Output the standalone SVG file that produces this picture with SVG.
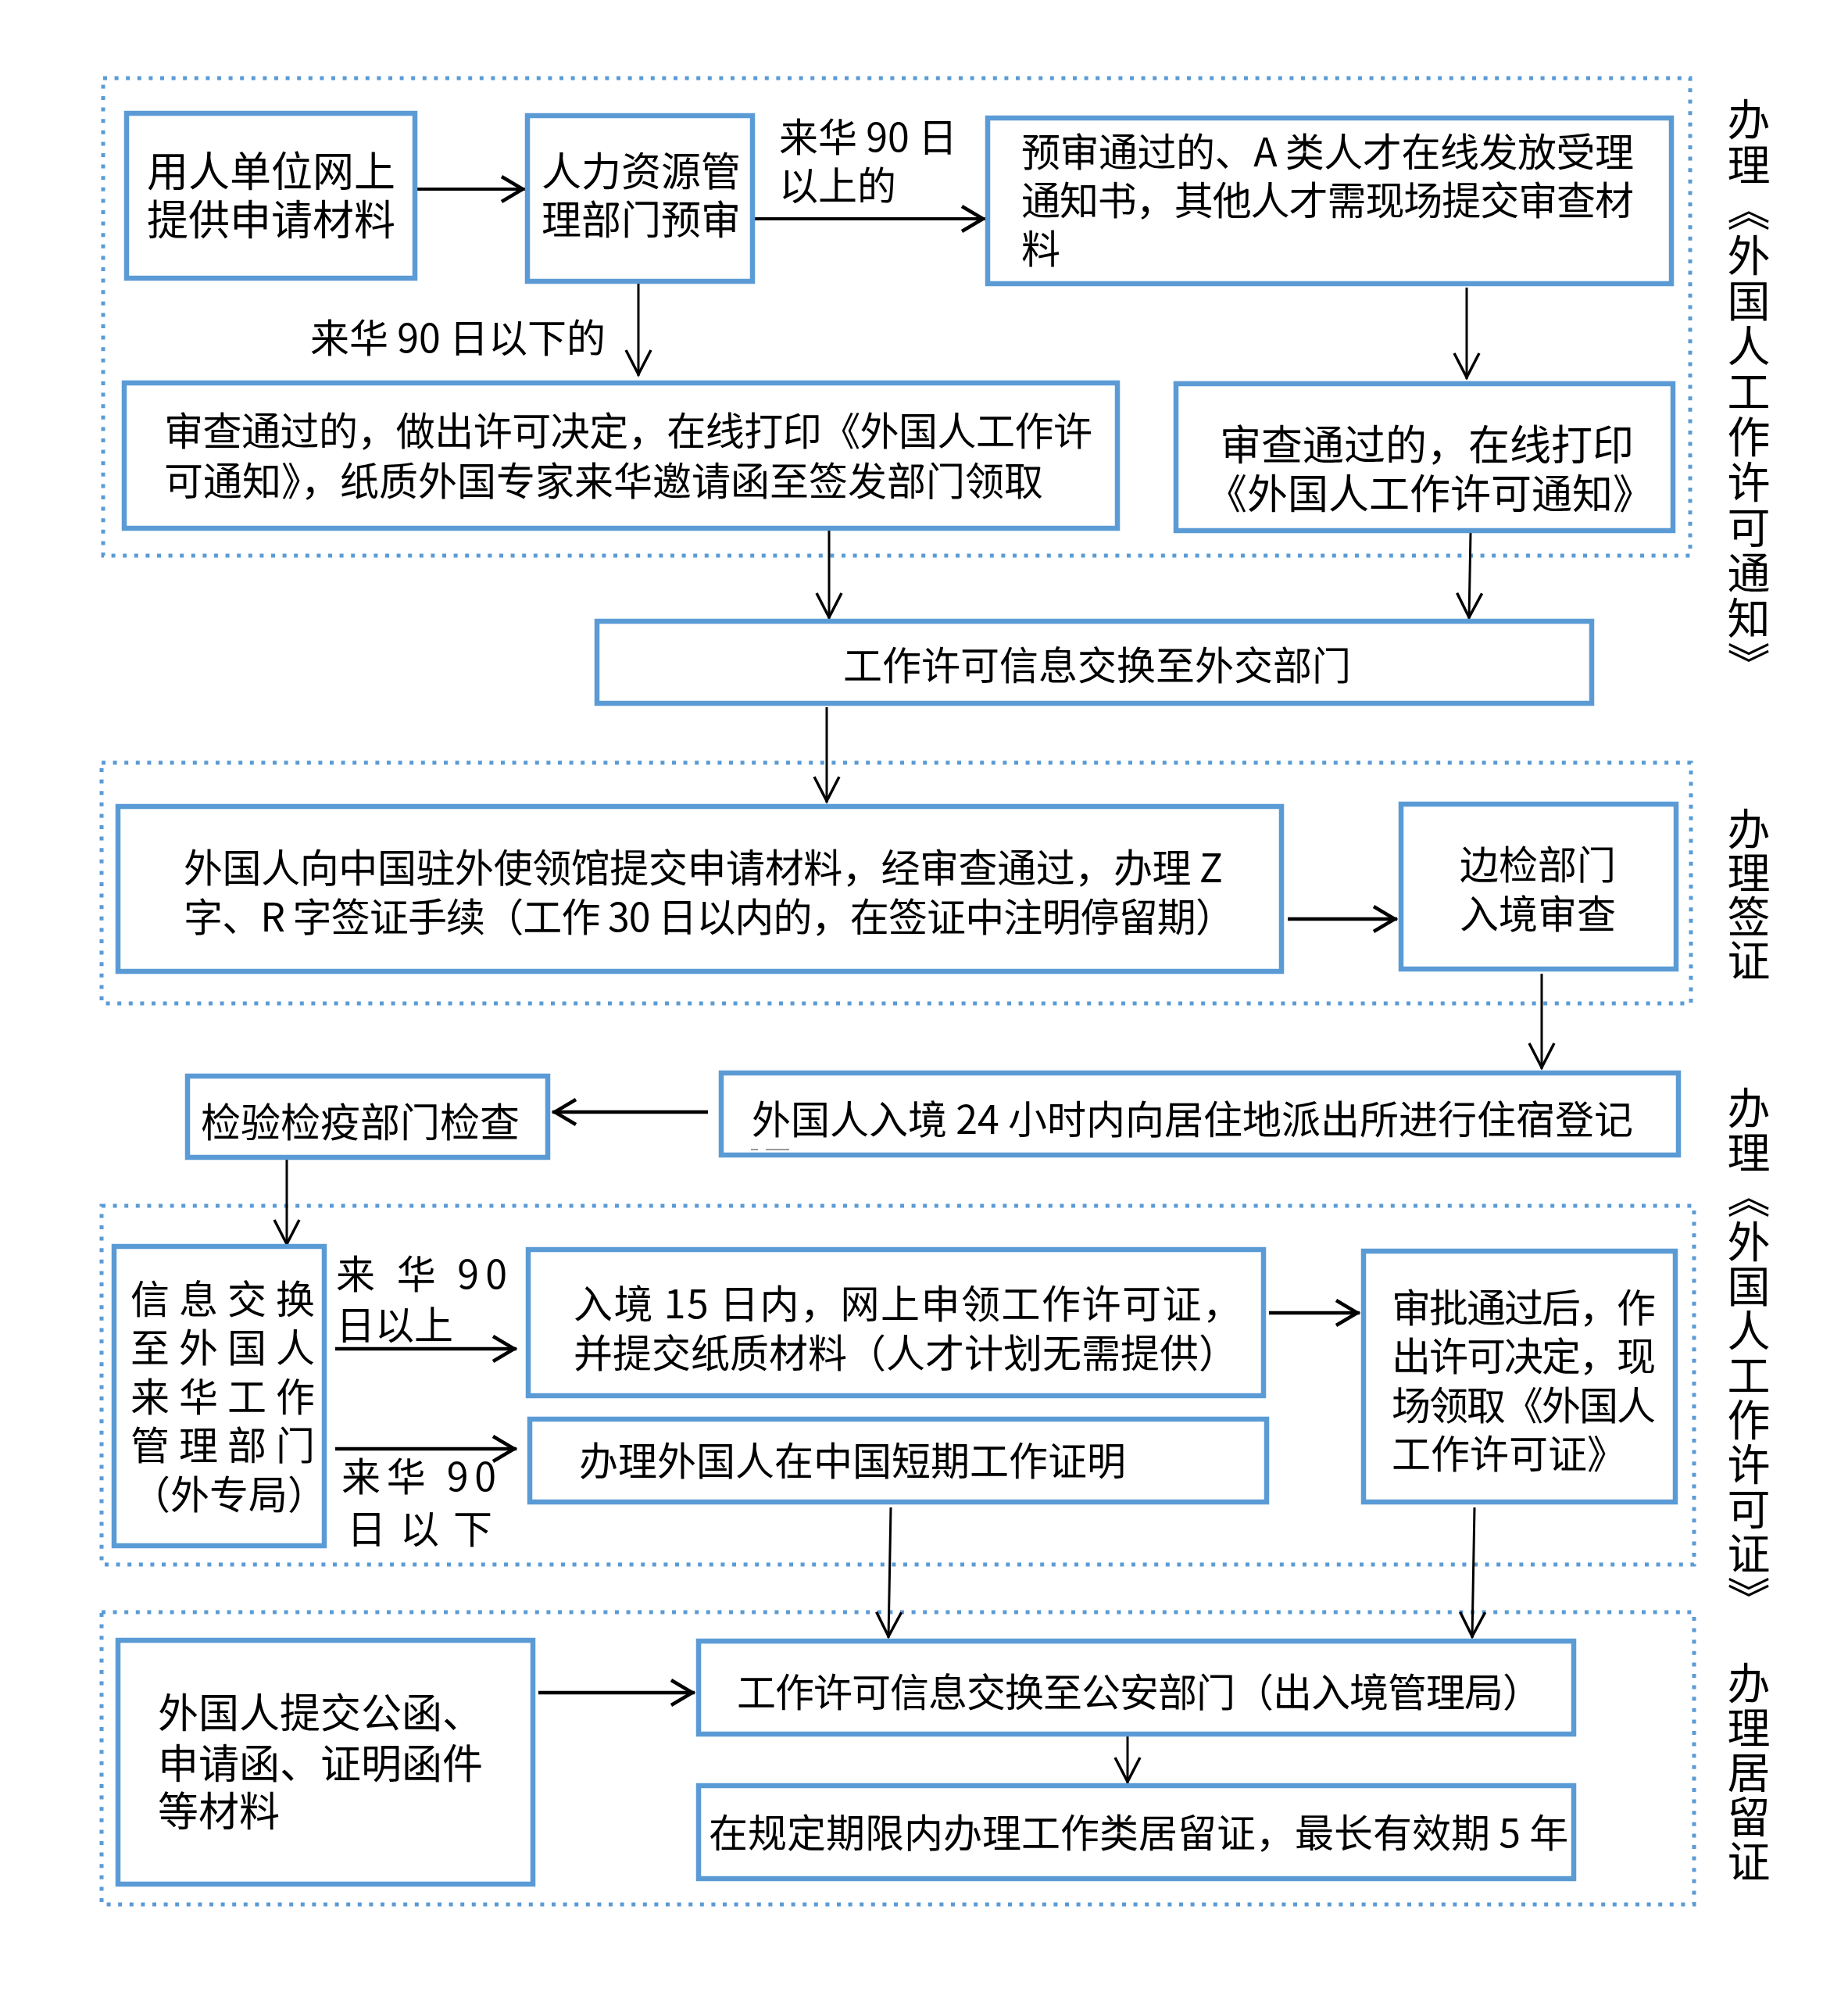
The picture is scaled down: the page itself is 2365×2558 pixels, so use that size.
<svg xmlns="http://www.w3.org/2000/svg" width="2365" height="2558" viewBox="0 0 2365 2558">
<style>
.bg{fill:#fff}
.zone{fill:none;stroke:#5B9BD5;stroke-width:5;stroke-dasharray:5 9.6}
.box{fill:#fff;stroke:#5B9BD5;stroke-width:6.5}
.t{font-family:'Noto Sans CJK SC','Noto Sans',sans-serif;font-size:50px;fill:#000}
.vt{font-family:'Noto Sans CJK SC','Noto Sans',sans-serif;font-size:55px;fill:#000;writing-mode:vertical-rl}
.c{fill:none;stroke:#000;stroke-width:3}
.ck{fill:none;stroke:#000;stroke-width:4.5}
.m{text-anchor:middle}
</style>
<defs>
<marker id="ah" markerUnits="userSpaceOnUse" markerWidth="44" markerHeight="44" viewBox="-40 -22 44 44" refX="0" refY="0" orient="auto" overflow="visible">
<path d="M-33,-16 L-2,0 L-33,16" fill="none" stroke="#000" stroke-width="3.5"/>
</marker>
<marker id="ahk" markerUnits="userSpaceOnUse" markerWidth="44" markerHeight="44" viewBox="-40 -22 44 44" refX="0" refY="0" orient="auto" overflow="visible">
<path d="M-30,-16 L-3,0 L-30,16" fill="none" stroke="#000" stroke-width="4.5"/>
</marker>
</defs>
<rect class="bg" x="0" y="0" width="2365" height="2558"/>

<g id="zones">
<rect class="zone" x="132" y="100" width="2031" height="611"/>
<rect class="zone" x="130" y="976" width="2034" height="308"/>
<rect class="zone" x="130" y="1543" width="2038" height="459"/>
<rect class="zone" x="130" y="2063" width="2038" height="374"/>
</g>

<g id="labels">
<text class="vt" x="2238" y="125" style="letter-spacing:3px">办理《外国人工作许可通知》</text>
<text class="vt" x="2238" y="1033" style="letter-spacing:1px">办理签证</text>
<text class="vt" x="2238" y="1390" style="letter-spacing:2px">办理《外国人工作许可证》</text>
<text class="vt" x="2238" y="2126" style="letter-spacing:2px">办理居留证</text>
</g>

<g id="connectors">
<line class="c" x1="534" y1="242" x2="672" y2="242" style="stroke-width:4" marker-end="url(#ahk)"/>
<line class="c" x1="966" y1="280" x2="1261" y2="280" style="stroke-width:4" marker-end="url(#ahk)"/>
<text class="t" x="997" y="194">来华 90 日</text>
<text class="t" x="997" y="256">以上的</text>
<line class="c" x1="817" y1="363" x2="817" y2="481" marker-end="url(#ah)"/>
<text class="t" x="397" y="451">来华 90 日以下的</text>
<line class="c" x1="1877" y1="368" x2="1877" y2="485" marker-end="url(#ah)"/>
<line class="c" x1="1061" y1="679" x2="1061" y2="792" marker-end="url(#ah)"/>
<line class="c" x1="1882" y1="682" x2="1880" y2="792" marker-end="url(#ah)"/>
<line class="c" x1="1058" y1="905" x2="1058" y2="1027" marker-end="url(#ah)"/>
<line class="ck" x1="1648" y1="1176" x2="1788" y2="1176" marker-end="url(#ahk)"/>
<line class="c" x1="1973" y1="1246" x2="1973" y2="1368" marker-end="url(#ah)"/>
<line class="ck" x1="906" y1="1423" x2="707" y2="1423" marker-end="url(#ahk)"/>
<line class="c" x1="367" y1="1484" x2="367" y2="1594" marker-end="url(#ah)"/>
<line class="ck" x1="429" y1="1726" x2="661" y2="1726" marker-end="url(#ahk)"/>
<text class="t" x="430" y="1649" textLength="219" lengthAdjust="spacing">来 华 90</text>
<text class="t" x="430" y="1714">日以上</text>
<line class="ck" x1="1624" y1="1680" x2="1740" y2="1680" marker-end="url(#ahk)"/>
<line class="ck" x1="429" y1="1854" x2="661" y2="1854" marker-end="url(#ahk)"/>
<text class="t" x="437" y="1908" textLength="198" lengthAdjust="spacing">来华 90</text>
<text class="t" x="444" y="1975" textLength="186" lengthAdjust="spacing">日 以 下</text>
<line class="c" x1="1140" y1="1929" x2="1137" y2="2096" marker-end="url(#ah)"/>
<line class="c" x1="1887" y1="1929" x2="1884" y2="2096" marker-end="url(#ah)"/>
<line class="ck" x1="689" y1="2166" x2="889" y2="2166" marker-end="url(#ahk)"/>
<line class="c" x1="1443" y1="2222" x2="1443" y2="2282" marker-end="url(#ah)"/>
</g>

<g id="n1">
<rect class="box" x="162" y="145" width="369" height="211"/>
<text class="t" x="188" y="239" style="font-size:53px">用人单位网上</text>
<text class="t" x="188" y="301" style="font-size:53px">提供申请材料</text>
</g>
<g id="n2">
<rect class="box" x="675" y="148" width="288" height="212"/>
<text class="t" x="693" y="238" style="font-size:51px">人力资源管</text>
<text class="t" x="693" y="300" style="font-size:51px">理部门预审</text>
</g>
<g id="n3">
<rect class="box" x="1264" y="151" width="875" height="212"/>
<text class="t" x="1307" y="213" textLength="784" lengthAdjust="spacing">预审通过的、A 类人才在线发放受理</text>
<text class="t" x="1307" y="275" textLength="784" lengthAdjust="spacing">通知书，其他人才需现场提交审查材</text>
<text class="t" x="1307" y="337">料</text>
</g>
<g id="n4">
<rect class="box" x="159" y="490" width="1271" height="186"/>
<text class="t" x="210" y="570" textLength="1188" lengthAdjust="spacing">审查通过的，做出许可决定，在线打印《外国人工作许</text>
<text class="t" x="210" y="634">可通知》，纸质外国专家来华邀请函至签发部门领取</text>
</g>
<g id="n5">
<rect class="box" x="1505" y="491" width="636" height="188"/>
<text class="t m" x="1826" y="589" style="font-size:53px">审查通过的，在线打印</text>
<text class="t m" x="1830" y="651" style="font-size:52px">《外国人工作许可通知》</text>
</g>
<g id="n6">
<rect class="box" x="764" y="795" width="1273" height="105"/>
<text class="t m" x="1404" y="870">工作许可信息交换至外交部门</text>
</g>
<g id="n7">
<rect class="box" x="151" y="1032" width="1489" height="211"/>
<text class="t" x="235" y="1129" textLength="1330" lengthAdjust="spacing">外国人向中国驻外使领馆提交申请材料，经审查通过，办理 Z</text>
<text class="t" x="235" y="1192" textLength="1345" lengthAdjust="spacing">字、R 字签证手续（工作 30 日以内的，在签证中注明停留期）</text>
</g>
<g id="n8">
<rect class="box" x="1793" y="1029" width="352" height="211"/>
<text class="t m" x="1968" y="1125">边检部门</text>
<text class="t m" x="1968" y="1188">入境审查</text>
</g>
<g id="n9">
<rect class="box" x="923" y="1373" width="1225" height="105"/>
<text class="t" x="962" y="1451">外国人入境 24 小时内向居住地派出所进行住宿登记</text>
<line x1="961" y1="1471" x2="970" y2="1471" stroke="#777" stroke-width="1.5"/>
<line x1="980" y1="1471" x2="1010" y2="1471" stroke="#777" stroke-width="1.5"/>
</g>
<g id="n10">
<rect class="box" x="240" y="1377" width="461" height="104"/>
<text class="t m" x="461" y="1455" style="font-size:51px">检验检疫部门检查</text>
</g>
<g id="n11">
<rect class="box" x="146" y="1595" width="269" height="383"/>
<text class="t" x="167" y="1681" style="letter-spacing:12px">信息交换</text>
<text class="t" x="167" y="1743" style="letter-spacing:12px">至外国人</text>
<text class="t" x="167" y="1806" style="letter-spacing:12px">来华工作</text>
<text class="t" x="167" y="1868" style="letter-spacing:12px">管理部门</text>
<text class="t m" x="293" y="1931">（外专局）</text>
</g>
<g id="n12">
<rect class="box" x="676" y="1599" width="941" height="187"/>
<text class="t" x="734" y="1687" textLength="855" lengthAdjust="spacing">入境 15 日内，网上申领工作许可证，</text>
<text class="t" x="734" y="1750">并提交纸质材料（人才计划无需提供）</text>
</g>
<g id="n13">
<rect class="box" x="1745" y="1601" width="399" height="321"/>
<text class="t" x="1781" y="1692" textLength="338" lengthAdjust="spacing">审批通过后，作</text>
<text class="t" x="1781" y="1754" textLength="338" lengthAdjust="spacing">出许可决定，现</text>
<text class="t" x="1781" y="1817" textLength="338" lengthAdjust="spacing">场领取《外国人</text>
<text class="t" x="1781" y="1879">工作许可证》</text>
</g>
<g id="n14">
<rect class="box" x="678" y="1816" width="943" height="106"/>
<text class="t" x="741" y="1888">办理外国人在中国短期工作证明</text>
</g>
<g id="n15">
<rect class="box" x="151" y="2099" width="531" height="312"/>
<text class="t" x="202" y="2211" style="font-size:52px">外国人提交公函、</text>
<text class="t" x="202" y="2276" style="font-size:52px">申请函、证明函件</text>
<text class="t" x="202" y="2337" style="font-size:52px">等材料</text>
</g>
<g id="n16">
<rect class="box" x="894" y="2100" width="1120" height="119"/>
<text class="t" x="943" y="2184" textLength="1030" lengthAdjust="spacing">工作许可信息交换至公安部门（出入境管理局）</text>
</g>
<g id="n17">
<rect class="box" x="894" y="2285" width="1120" height="119"/>
<text class="t" x="907" y="2364">在规定期限内办理工作类居留证，最长有效期 5 年</text>
</g>
</svg>
